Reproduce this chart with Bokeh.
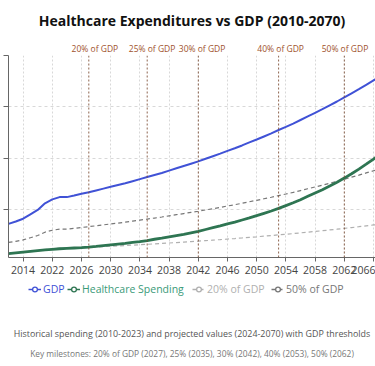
from bokeh.plotting import figure
from bokeh.layouts import column
from bokeh.models import (Range1d, FixedTicker, Span, Legend, LegendItem, ColumnDataSource)
from bokeh.core.properties import value
from bokeh.embed import file_html
from bokeh.resources import INLINE

# ---------------- data ----------------
years = [2010, 2012, 2014, 2016, 2018, 2020, 2022] + list(range(2023, 2071))

gdp = [14.5, 15.4, 16.5, 18.2, 19.9, 22.5, 24.0,
       24.9, 24.9, 25.5, 26.2, 26.8, 27.5, 28.2, 28.9, 29.6, 30.3,
       31.1, 31.9, 32.7, 33.5, 34.3, 35.2, 36.1, 37.0, 37.9, 38.8,
       39.8, 40.8, 41.8, 42.9, 43.9, 45.0, 46.2, 47.3, 48.5, 49.7,
       51.0, 52.2, 53.5, 54.9, 56.3, 57.7, 59.1, 60.6, 62.1, 63.7,
       65.3, 66.9, 68.6, 70.3, 72.0, 73.8, 75.7, 77.6]

healthcare = [2.9, 3.2, 3.5, 3.8, 4.1, 4.4, 4.6,
              4.8, 4.95, 5.1, 5.25, 5.45, 5.7, 6.0, 6.3, 6.6, 6.9,
              7.3, 7.6, 8.0, 8.5, 8.9, 9.4, 9.9, 10.4, 11.0, 11.6,
              12.3, 13.0, 13.7, 14.5, 15.2, 16.0, 16.8, 17.7, 18.6, 19.5,
              20.5, 21.6, 22.7, 23.9, 25.2, 26.5, 27.8, 29.2, 30.7, 32.3,
              34.0, 35.8, 37.7, 39.7, 41.8, 44.0, 46.3, 48.8]

share_20 = [0.2 * g for g in gdp]   # "20% of GDP" threshold
share_50 = [0.5 * g for g in gdp]   # "50% of GDP" threshold

milestone_years = [2027, 2035, 2042, 2053, 2062]
milestone_labels = ["20% of GDP", "25% of GDP", "30% of GDP", "40% of GDP", "50% of GDP"]

tick_years = [2014, 2022, 2026, 2030, 2034, 2038, 2042, 2046, 2050, 2054, 2058, 2062, 2066]
y_grid_values = [20, 40, 60, 80]

title_text = "Healthcare Expenditures vs GDP (2010-2070)"
subtitle_1 = "Historical spending (2010-2023) and projected values (2024-2070) with GDP thresholds"
subtitle_2 = "Key milestones: 20% of GDP (2027), 25% (2035), 30% (2042), 40% (2053), 50% (2062)"

# ---------------- styling ----------------
BLUE = "#4052d6"
GREEN = "#2e7552"
GREEN_TXT = "#3a9a78"
G20 = "#b0b0b0"
G50 = "#777777"
BROWN = "#a0522d"
FONT = "Open Sans"

W = 375
PX = 7.3                       # pixels per category step
X_END = (W - 8) / PX           # last visible category position
X_START_FULL = -8 / PX         # for full-width helper figures

pos = list(range(len(years)))
src = ColumnDataSource(dict(x=pos, gdp=gdp, hc=healthcare, p20=share_20, p50=share_50))


def bare(height, y_top):
    f = figure(width=W, height=height, output_backend="svg", toolbar_location=None,
               x_range=Range1d(X_START_FULL, X_END), y_range=Range1d(y_top, 0),
               x_axis_location=None, y_axis_location=None,
               min_border_left=0, min_border_right=0, min_border_top=0, min_border_bottom=0)
    f.outline_line_color = None
    f.grid.visible = False
    return f


# ---------------- header (title + milestone labels) ----------------
top = bare(55, 55)
cx = X_START_FULL + 187.5 / PX
top.text(x=[cx], y=[20], text=[title_text], text_align="center", text_baseline="middle",
         text_font=value(FONT), text_font_size="14px", text_font_style="bold", text_color="#111111")
m_pos = [years.index(y) for y in milestone_years]
top.text(x=m_pos, y=[48] * len(m_pos), text=milestone_labels, text_align="center",
         text_baseline="middle", text_font=value(FONT), text_font_size="8.5px", text_color=BROWN)

# ---------------- main chart ----------------
p = figure(width=W, height=227, output_backend="svg", toolbar_location=None,
           x_range=Range1d(0, X_END), y_range=Range1d(1.4, 80),
           min_border_left=8, min_border_right=0, min_border_top=0, min_border_bottom=25)
p.outline_line_color = None

tick_pos = [years.index(t) for t in tick_years]
p.xgrid.ticker = FixedTicker(ticks=tick_pos)
p.xgrid.grid_line_color = "#d8d8d8"
p.xgrid.grid_line_dash = "2 2"
p.ygrid.ticker = FixedTicker(ticks=y_grid_values)
p.ygrid.grid_line_color = "#d8d8d8"
p.ygrid.grid_line_dash = "3 3"

p.xaxis.ticker = FixedTicker(ticks=tick_pos)
p.xaxis.major_label_overrides = {i: str(years[i]) for i in tick_pos}
p.xaxis.axis_line_color = "#666666"
p.xaxis.major_tick_line_color = "#666666"
p.xaxis.major_tick_out = 4
p.xaxis.major_tick_in = 0
p.xaxis.minor_tick_line_color = None
p.xaxis.major_label_text_font = FONT
p.xaxis.major_label_text_font_size = "10.5px"
p.xaxis.major_label_text_color = "#444444"
p.xaxis.major_label_standoff = 4

# y axis: line and tick marks only (its labels fall outside the picture in the reference)
p.yaxis.ticker = FixedTicker(ticks=y_grid_values)
p.yaxis.major_label_overrides = {v: "" for v in y_grid_values}
p.yaxis.axis_line_color = "#666666"
p.yaxis.major_tick_line_color = "#666666"
p.yaxis.major_tick_out = 5
p.yaxis.major_tick_in = 0
p.yaxis.minor_tick_line_color = None
p.yaxis.major_label_standoff = 0

r20 = p.line("x", "p20", source=src, line_color=G20, line_width=1.2, line_dash="4 3")
r50 = p.line("x", "p50", source=src, line_color=G50, line_width=1.2, line_dash="4 3")
rhc = p.line("x", "hc", source=src, line_color=GREEN, line_width=2.8)
rgdp = p.line("x", "gdp", source=src, line_color=BLUE, line_width=2)

for i in m_pos:
    p.add_layout(Span(location=i, dimension="height", line_color="#7a4a30",
                      line_dash="2 2", line_width=1, line_alpha=0.85))

# ---------------- footer (legend + subtitles) ----------------
bot = bare(84, 84)
specs = [("GDP", "gdp", BLUE, BLUE, None, 20),
         ("Healthcare Spending", "hc", GREEN, GREEN_TXT, None, 59),
         ("20% of GDP", "p20", G20, G20, "4 3", 184),
         ("50% of GDP", "p50", G50, G50, "4 3", 263)]
for lab, col, lcol, tcol, dash, xloc in specs:
    kw = dict(line_dash=dash) if dash else {}
    lr = bot.line("x", col, source=src, line_color=lcol, line_width=1.5, visible=False, **kw)
    mr = bot.scatter("x", col, source=src, size=6, marker="circle", fill_color="white",
                     line_color=lcol, line_width=1.3, visible=False)
    leg = Legend(items=[LegendItem(label=lab, renderers=[lr, mr])], location=(xloc, 70),
                 orientation="horizontal", border_line_color=None, background_fill_alpha=0,
                 padding=0, margin=0, spacing=0, glyph_width=13, glyph_height=12,
                 label_height=12, label_width=10, label_standoff=2, label_text_font=FONT,
                 label_text_font_size="10.5px", label_text_color=tcol)
    bot.add_layout(leg, "center")

bot.text(x=[cx], y=[51], text=[subtitle_1], text_align="center", text_baseline="middle",
         text_font=value(FONT), text_font_size="8.9px", text_color="#555555")
bot.text(x=[cx], y=[71], text=[subtitle_2], text_align="center", text_baseline="middle",
         text_font=value(FONT), text_font_size="8.4px", text_color="#777777")

layout = column(top, p, bot, spacing=0)
open("out.html", "w").write(file_html(layout, INLINE))
